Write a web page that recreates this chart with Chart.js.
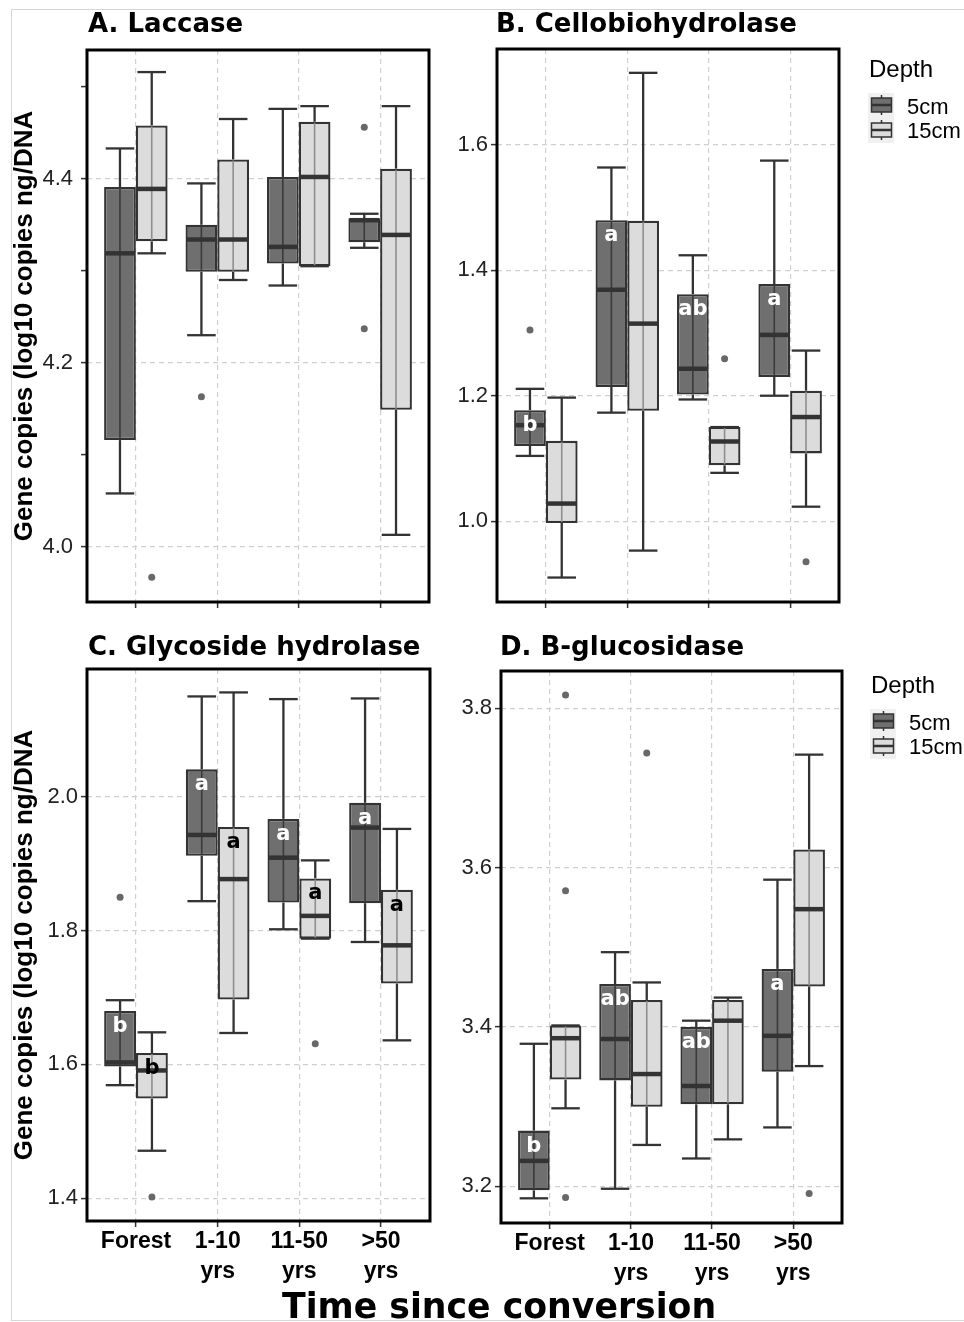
<!DOCTYPE html>
<html>
<head>
<meta charset="utf-8">
<script src="https://cdn.jsdelivr.net/npm/chart.js@4.4.1/dist/chart.umd.min.js"></script>
<style>
html, body { margin: 0; padding: 0; background: #fff; }
#page { position: relative; width: 964px; height: 1322px; overflow: hidden; background: #fff; }
.border { position: absolute; left: 11px; top: 9px; width: 980px; height: 1312px; border: 1px solid #d6d6d6; box-sizing: border-box; }
canvas { position: absolute; }
.title { position: absolute; font: bold 26px "DejaVu Sans"; line-height: 26px; white-space: nowrap; color: #000; }
.ytitle { position: absolute; width: 480px; height: 26px; font: bold 26px "Liberation Sans"; line-height: 26px; text-align: center; white-space: nowrap; transform: rotate(-90deg); color: #000; }
.xtitle { position: absolute; font: bold 34.7px "DejaVu Sans"; line-height: 35px; white-space: nowrap; color: #000; }
.leg { position: absolute; font-family: "Liberation Sans"; line-height: 1; white-space: nowrap; color: #000; }
svg { position: absolute; left: 0; top: 0; }
</style>
</head>
<body>
<div id="page">
  <div class="border"></div>
  <canvas id="cA" width="440" height="625" style="left:0;top:0"></canvas>
  <canvas id="cB" width="524" height="625" style="left:440px;top:0"></canvas>
  <canvas id="cC" width="440" height="697" style="left:0;top:625px"></canvas>
  <canvas id="cD" width="524" height="697" style="left:440px;top:625px"></canvas>

  <div class="title" style="left:88px;top:10px">A. Laccase</div>
  <div class="title" style="left:496px;top:10px">B. Cellobiohydrolase</div>
  <div class="title" style="left:88px;top:633px">C. Glycoside hydrolase</div>
  <div class="title" style="left:500px;top:633px">D. B-glucosidase</div>

  <div class="ytitle" style="left:-217px;top:313px">Gene copies (log10 copies ng/DNA</div>
  <div class="ytitle" style="left:-217px;top:932px">Gene copies (log10 copies ng/DNA</div>

  <div class="xtitle" style="left:282px;top:1289px">Time since conversion</div>

  <div id="legends"></div>
</div>

<script>
// categories on the x axis
const categories = ['Forest', ['1-10', 'yrs'], ['11-50', 'yrs'], ['>50', 'yrs']];
const depths = ['5cm', '15cm'];

// each row: [lower whisker, Q1, median, Q3, upper whisker]
const laccase5  = [[4.058, 4.116, 4.319, 4.391, 4.433], [4.230, 4.299, 4.334, 4.350, 4.395], [4.284, 4.308, 4.326, 4.402, 4.476], [4.325, 4.331, 4.355, 4.357, 4.362]];
const laccase15 = [[4.319, 4.332, 4.389, 4.458, 4.516], [4.290, 4.299, 4.334, 4.421, 4.465], [4.305, 4.305, 4.402, 4.462, 4.479], [4.013, 4.149, 4.339, 4.411, 4.479]];
const laccaseOut5  = [[], [4.163], [], [4.456, 4.237]];
const laccaseOut15 = [[3.967], [], [], []];

const cello5  = [[1.104, 1.120, 1.153, 1.177, 1.211], [1.173, 1.214, 1.369, 1.480, 1.564], [1.194, 1.202, 1.243, 1.362, 1.424], [1.200, 1.230, 1.297, 1.378, 1.575]];
const cello15 = [[0.910, 0.997, 1.028, 1.128, 1.197], [0.953, 1.176, 1.315, 1.479, 1.715], [1.077, 1.089, 1.127, 1.150, 1.150], [1.023, 1.108, 1.166, 1.208, 1.272]];
const celloOut5  = [[1.305], [], [], []];
const celloOut15 = [[], [], [1.259], [0.935]];
const celloLetters5 = ['b', 'a', 'ab', 'a'];

const glyco5  = [[1.569, 1.597, 1.603, 1.680, 1.696], [1.844, 1.912, 1.943, 2.041, 2.150], [1.802, 1.842, 1.909, 1.967, 2.146], [1.783, 1.841, 1.954, 1.991, 2.147]];
const glyco15 = [[1.471, 1.549, 1.591, 1.617, 1.648], [1.647, 1.697, 1.877, 1.955, 2.156], [1.788, 1.788, 1.822, 1.878, 1.905], [1.636, 1.721, 1.778, 1.861, 1.952]];
const glycoOut5  = [[1.850], [], [], []];
const glycoOut15 = [[1.402], [], [1.631], []];
const glycoLetters5  = ['b', 'a', 'a', 'a'];
const glycoLetters15 = ['b', 'a', 'a', 'a'];

const gluco5  = [[3.185, 3.195, 3.232, 3.270, 3.379], [3.197, 3.333, 3.385, 3.454, 3.494], [3.235, 3.303, 3.326, 3.400, 3.408], [3.274, 3.344, 3.389, 3.473, 3.585]];
const gluco15 = [[3.298, 3.334, 3.386, 3.402, 3.402], [3.252, 3.300, 3.341, 3.434, 3.456], [3.259, 3.303, 3.408, 3.434, 3.437], [3.351, 3.451, 3.548, 3.623, 3.742]];
const glucoOut5  = [[], [], [], []];
const glucoOut15 = [[3.817, 3.571, 3.186], [3.744], [], [3.191]];
const glucoLetters5 = ['b', 'ab', 'ab', 'a'];

// y axis ticks and ranges
const ticksA = [4.0, 4.2, 4.4], minorA = [4.1, 4.3, 4.5], rangeA = [3.94, 4.54];
const ticksB = [1.0, 1.2, 1.4, 1.6], rangeB = [0.871, 1.753];
const ticksC = [1.4, 1.6, 1.8, 2.0], rangeC = [1.366, 2.191];
const ticksD = [3.2, 3.4, 3.6, 3.8], rangeD = [3.154, 3.847];

const DARK = '#6f6f6f', LIGHT = '#dcdcdc', EDGE = '#333333';
const DODGE = 0.195;

function boxPlugin(p) {
  return {
    id: 'boxes',
    afterDatasetsDraw(chart) {
      const { ctx, chartArea: a, scales: { y } } = chart;
      const py = v => y.getPixelForValue(v);
      const line = (x1, y1, x2, y2) => { ctx.beginPath(); ctx.moveTo(x1, y1); ctx.lineTo(x2, y2); ctx.stroke(); };
      ctx.save();
      [p.s5, p.s15].forEach((stats, d) => {
        const meta = chart.getDatasetMeta(d);
        const letters = d ? p.l15 : p.l5;
        meta.data.forEach((bar, i) => {
          const [lo, q1, med, q3, hi] = stats[i];
          const x = bar.x, w = bar.width, cw = w * 0.45;
          ctx.strokeStyle = EDGE; ctx.lineWidth = 2.3;
          line(x, py(hi), x, py(q3));
          line(x, py(q1), x, py(lo));
          line(x - cw, py(hi), x + cw, py(hi));
          line(x - cw, py(lo), x + cw, py(lo));
          ctx.strokeStyle = d ? '#8e8e8e' : '#3a3a3a'; ctx.lineWidth = 1.6;
          line(x, py(q3) + 1, x, py(q1) - 1);
          ctx.strokeStyle = EDGE; ctx.lineWidth = 4.5;
          line(x - w / 2 + 1, py(med), x + w / 2 - 1, py(med));
          if (letters && letters[i]) {
            ctx.font = 'bold 21px "DejaVu Sans"';
            ctx.textAlign = 'center';
            ctx.textBaseline = 'alphabetic';
            ctx.fillStyle = d ? '#000' : '#fff';
            ctx.fillText(letters[i], x, py(q3) + 21);
          }
        });
      });
      ctx.lineWidth = 3; ctx.strokeStyle = '#000';
      ctx.strokeRect(a.left, a.top, a.right - a.left, a.bottom - a.top);
      ctx.restore();
    }
  };
}

function buildBoxPanel(canvasId, p) {
  const ctx = document.getElementById(canvasId);
  const outliers = [];
  p.o5.forEach((vals, i) => vals.forEach(v => outliers.push({ x: i + 1 - DODGE, y: v })));
  p.o15.forEach((vals, i) => vals.forEach(v => outliers.push({ x: i + 1 + DODGE, y: v })));
  const allTicks = p.major.concat(p.minor || []).sort((a, b) => a - b);
  return new Chart(ctx, {
    type: 'bar',
    data: {
      datasets: [
        { label: depths[0], data: p.s5.map((s, i) => ({ x: i + 1, y: [s[1], s[3]] })),
          backgroundColor: DARK, borderColor: EDGE, borderWidth: 2.3, borderSkipped: false,
          categoryPercentage: 0.78, barPercentage: 1 },
        { label: depths[1], data: p.s15.map((s, i) => ({ x: i + 1, y: [s[1], s[3]] })),
          backgroundColor: LIGHT, borderColor: EDGE, borderWidth: 2.3, borderSkipped: false,
          categoryPercentage: 0.78, barPercentage: 1 },
        { type: 'scatter', label: 'outliers', data: outliers,
          pointRadius: 3.5, pointBackgroundColor: '#686868', pointBorderWidth: 0 }
      ]
    },
    options: {
      responsive: false,
      animation: false,
      layout: { padding: { left: 0, top: p.top, right: p.right, bottom: 0 }, autoPadding: false },
      plugins: { legend: { display: false }, tooltip: { enabled: false } },
      scales: {
        x: {
          type: 'linear', min: 0.4, max: 4.6, offset: false, bounds: 'data',
          afterBuildTicks: s => { s.ticks = categories.map((c, i) => ({ value: i + 1 })); },
          afterFit: s => { s.height = p.xh; },
          ticks: {
            autoSkip: false, maxRotation: 0, padding: 0, color: '#000',
            font: { family: 'Liberation Sans', size: 23, weight: 'bold', lineHeight: 1.3 },
            callback: v => p.showX ? categories[Math.round(v) - 1] : ''
          },
          grid: { offset: false, color: '#d0d0d0', lineWidth: 1.2, tickLength: 6, tickColor: '#333', tickWidth: 1.5, tickBorderDash: [] },
          border: { display: false, dash: [5, 4] }
        },
        y: {
          type: 'linear', min: p.range[0], max: p.range[1], bounds: 'data',
          afterBuildTicks: s => { s.ticks = allTicks.map(v => ({ value: v })); },
          afterFit: s => { s.width = p.yw; },
          ticks: {
            padding: p.ypad, color: '#222',
            font: { family: 'Liberation Sans', size: 22 },
            callback: v => p.major.includes(v) ? v.toFixed(1) : ''
          },
          grid: {
            color: c => (c.tick && p.major.includes(c.tick.value)) ? '#d0d0d0' : 'rgba(0,0,0,0)',
            lineWidth: 1.2, tickLength: 6, tickColor: '#333', tickWidth: 1.5, tickBorderDash: []
          },
          border: { display: false, dash: [5, 4] }
        }
      }
    },
    plugins: [boxPlugin(p)]
  });
}

buildBoxPanel('cA', { s5: laccase5, s15: laccase15, o5: laccaseOut5, o15: laccaseOut15,
  major: ticksA, minor: minorA, range: rangeA, top: 50, right: 11, yw: 87, xh: 23, ypad: 8, showX: false });
buildBoxPanel('cB', { s5: cello5, s15: cello15, o5: celloOut5, o15: celloOut15, l5: celloLetters5,
  major: ticksB, range: rangeB, top: 49, right: 125, yw: 57, xh: 23, ypad: 3, showX: false });
buildBoxPanel('cC', { s5: glyco5, s15: glyco15, o5: glycoOut5, o15: glycoOut15, l5: glycoLetters5, l15: glycoLetters15,
  major: ticksC, range: rangeC, top: 44, right: 10, yw: 87, xh: 101, ypad: 3, showX: true });
buildBoxPanel('cD', { s5: gluco5, s15: gluco15, o5: glucoOut5, o15: glucoOut15, l5: glucoLetters5,
  major: ticksD, range: rangeD, top: 46, right: 122, yw: 61, xh: 99, ypad: 3, showX: true });

// legends (Depth: 5cm / 15cm)
function legendHTML(dx, dy) {
  const key = (y0, fill) =>
    `<line x1="${881.5 + dx}" y1="${y0 - 3 + dy}" x2="${881.5 + dx}" y2="${y0 + 17 + dy}" stroke="#333" stroke-width="1.5"/>` +
    `<rect x="${871.5 + dx}" y="${y0 + dy}" width="20" height="14" fill="${fill}" stroke="#333" stroke-width="1.5"/>` +
    `<line x1="${871.5 + dx}" y1="${y0 + 7 + dy}" x2="${891.5 + dx}" y2="${y0 + 7 + dy}" stroke="#333" stroke-width="2.5"/>`;
  return `<svg width="964" height="1322">` +
    `<rect x="${868 + dx}" y="${93 + dy}" width="26" height="50" fill="#f0f0f0"/>` +
    key(98, DARK) + key(123, LIGHT) + `</svg>` +
    `<div class="leg" style="left:${869 + dx}px;top:${57 + dy}px;font-size:24px">Depth</div>` +
    `<div class="leg" style="left:${907 + dx}px;top:${96 + dy}px;font-size:22px">${depths[0]}</div>` +
    `<div class="leg" style="left:${907 + dx}px;top:${120 + dy}px;font-size:22px">${depths[1]}</div>`;
}
document.getElementById('legends').innerHTML = legendHTML(0, 0) + legendHTML(2, 616);
</script>
</body>
</html>
